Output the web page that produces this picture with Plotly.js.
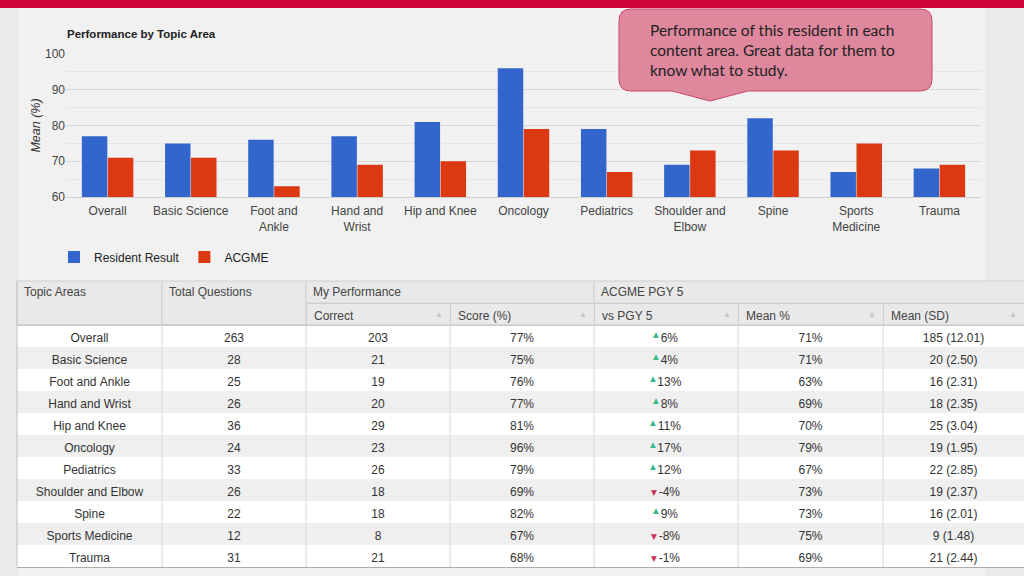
<!DOCTYPE html>
<html><head><meta charset="utf-8">
<script src="https://cdn.plot.ly/plotly-3.0.1.min.js"></script>
<style>html,body{margin:0;padding:0;background:#eaeaea;}#chart{width:1024px;height:576px;}</style>
</head><body><div id="chart"></div>
<script>
// ---- data ----
const topics = ['Overall','Basic Science','Foot and Ankle','Hand and Wrist','Hip and Knee','Oncology','Pediatrics','Shoulder and Elbow','Spine','Sports Medicine','Trauma'];
const tickLabels = ['Overall','Basic Science','Foot and<br>Ankle','Hand and<br>Wrist','Hip and Knee','Oncology','Pediatrics','Shoulder and<br>Elbow','Spine','Sports<br>Medicine','Trauma'];
const residentScore = [77,75,76,77,81,96,79,69,82,67,68];
const acgmeMean = [71,71,63,69,70,79,67,73,73,75,69];
const totalQuestions = [263,28,25,26,36,24,33,26,22,12,31];
const correct = [203,21,19,20,29,23,26,18,18,8,21];
const vsPgy5 = [6,4,13,8,11,17,12,-4,9,-8,-1];
const meanCount = [185,20,16,18,25,19,22,19,16,9,21];
const meanSD = [12.01,2.50,2.31,2.35,3.04,1.95,2.85,2.37,2.01,1.48,2.44];
const subHeaders = ['','','Correct','Score (%)','vs PGY 5','Mean %','Mean (SD)'];
const groupHeaders = ['Topic Areas','Total Questions','My Performance','ACGME PGY 5'];
const seriesNames = ['Resident Result','ACGME'];
const calloutText = 'Performance of this resident in each<br>content area. Great data for them to<br>know what to study.';

// ---- helpers (layout only) ----
const W = 1024, H = 576;
const px = x => x / W, py = y => 1 - y / H;
const FONT = 'Liberation Sans, Arial, sans-serif';
const colEdges = [17,162,306,450,594,738,883,1024];
const colWidths = colEdges.slice(1).map((e,i)=>e-colEdges[i]);
const ROW0 = 325, ROWH = 22;
// non-breaking spaces keep Plotly's table from re-wrapping (and re-sizing) the rows
const NB = '\u00A0';
const nb = s => String(s).replace(/ /g, NB);
const rowFill = topics.map((t,i)=> i%2 ? '#efefef' : '#ffffff');

const barResident = {
  type:'bar', name:seriesNames[0], x:topics, y:residentScore,
  marker:{color:'#3366cc'}, hoverinfo:'skip'
};
const barAcgme = {
  type:'bar', name:seriesNames[1], x:topics, y:acgmeMean,
  marker:{color:'#dc3912'}, hoverinfo:'skip'
};
const table = {
  type:'table',
  domain:{x:[px(17),1], y:[py(568),py(303)]},
  columnwidth: colWidths,
  header:{
    values: subHeaders, align:'left', height:ROWH,
    fill:{color:'#e9e9e9'}, line:{color:'#cfcfcf', width:1},
    font:{family:FONT, size:12, color:'#444'}
  },
  cells:{
    values:[
      topics.map(nb),
      totalQuestions,
      correct,
      residentScore.map(v=>v+'%'),
      vsPgy5.map(v=>NB+NB+v+'%'),
      acgmeMean.map(v=>v+'%'),
      meanCount.map((m,i)=>nb(m+' ('+meanSD[i].toFixed(2)+')'))
    ],
    align:'center', height:ROWH,
    fill:{color: colWidths.map(()=>rowFill)},
    line:{color:'rgba(0,0,0,0)', width:0},
    font:{family:FONT, size:12, color:'#333'}
  }
};

// ---- decorations ----
function rect(x0,y0,x1,y1,fill,line,layer){
  return {type:'rect', xref:'paper', yref:'paper', x0:px(x0), x1:px(x1), y0:py(y1), y1:py(y0),
    fillcolor:fill, line:{color:line||'rgba(0,0,0,0)', width:line?1:0}, layer:layer||'above'};
}
function hline(x0,x1,y,color){
  return {type:'line', xref:'paper', yref:'paper', x0:px(x0), x1:px(x1), y0:py(y), y1:py(y), line:{color:color,width:1}, layer:'above'};
}
function vline(x,y0,y1,color){
  return {type:'line', xref:'paper', yref:'paper', x0:px(x), x1:px(x), y0:py(y0), y1:py(y1), line:{color:color,width:1}, layer:'above'};
}
function calloutPath(){
  const L=619,R=932,T=9,B=91,r=12;
  const P=(x,y)=>px(x).toFixed(5)+','+py(y).toFixed(5);
  return 'M'+P(L+r,T)+' L'+P(R-r,T)+' Q'+P(R,T)+' '+P(R,T+r)+' L'+P(R,B-r)+' Q'+P(R,B)+' '+P(R-r,B)+
    ' L'+P(748,B)+' L'+P(710,101)+' L'+P(672,B)+' L'+P(L+r,B)+' Q'+P(L,B)+' '+P(L,B-r)+' L'+P(L,T+r)+' Q'+P(L,T)+' '+P(L+r,T)+' Z';
}

const shapes = [
  rect(19,8,986,576,'#f1f1f1',null,'below'),
  rect(0,0,1024,8,'#d1033b',null,'above'),
  rect(17,281,162,325,'#e9e9e9','#cfcfcf'),
  rect(162,281,306,325,'#e9e9e9','#cfcfcf'),
  rect(306,281,594,303,'#e9e9e9','#cfcfcf'),
  rect(594,281,1030,303,'#e9e9e9','#cfcfcf'),
  hline(17,1024,325,'#c6c6c6'),
  vline(17,281,567,'#c2c2c2'),
  hline(17,1024,567.5,'#adadad'),
  {type:'path', xref:'paper', yref:'paper', path:calloutPath(), fillcolor:'#df879c', line:{color:'#c9496d', width:1}, layer:'above'}
];
colEdges.slice(1,7).forEach(x=>shapes.push(vline(x,325,567,'#d6d6d6')));

const annotations = [];
const groupX = [17,162,306,594];
groupHeaders.forEach((t,i)=>annotations.push({
  xref:'paper', yref:'paper', x:px(groupX[i]+5), y:py(292), xanchor:'left', yanchor:'middle',
  text:t, showarrow:false, font:{family:FONT, size:12, color:'#444'}
}));
for(let c=2;c<7;c++){
  annotations.push({xref:'paper', yref:'paper', x:px(colEdges[c+1]-11), y:py(314), xanchor:'center', yanchor:'middle',
    text:'▲', showarrow:false, font:{family:FONT, size:8, color:'#c4c4c4'}});
}
// trend arrows of the "vs PGY 5" column, placed on an overlay axis pair (x2: px inside column, y2: row index)
const vsColW = colEdges[5]-colEdges[4];
vsPgy5.forEach((v,i)=>{
  const txtW = 6.67*2 + String(Math.abs(v)).length*6.67 + (v<0?4:0) + 10.67;
  annotations.push({xref:'x2', yref:'y2', x: vsColW/2 - txtW/2 + 5.5, y:i, xanchor:'center', yanchor:'middle',
    yshift: v>=0 ? 2 : -2, text: v>=0 ? '▲' : '▼', showarrow:false,
    font:{family:'DejaVu Sans, sans-serif', size:7.5, color: v>=0 ? '#3db88b' : '#c8305a'}});
});
annotations.push({
  xref:'paper', yref:'paper', x:px(648), y:py(50), xanchor:'left', yanchor:'middle', align:'left',
  text:calloutText, showarrow:false, font:{family:'Lato, Open Sans, sans-serif', size:15.5, color:'#222'}
});

const layout = {
  width:W, height:H, autosize:false,
  margin:{l:0,r:0,t:0,b:0,pad:0},
  paper_bgcolor:'#eaeaea', plot_bgcolor:'rgba(0,0,0,0)',
  font:{family:FONT, color:'#444'},
  title:{text:'<b>Performance by Topic Area</b>', x:px(67), xanchor:'left', xref:'container',
    y:py(34), yanchor:'middle', yref:'container', font:{family:FONT, size:11.5, color:'#222'}},
  barmode:'group', bargap:0.375, bargroupgap:0.02,
  xaxis:{domain:[px(66),px(981)], type:'category', tickvals:topics, ticktext:tickLabels,
    tickfont:{family:FONT, size:12, color:'#444'}, ticks:'', showgrid:false, ticklabelstandoff:3,
    showline:true, linecolor:'#cfcfcf', linewidth:1, fixedrange:true},
  yaxis:{domain:[py(197),py(54)], range:[60,100], dtick:10, tick0:60,
    gridcolor:'#d8d8d8', zeroline:false, showline:false, ticks:'',
    minor:{dtick:5, showgrid:true, gridcolor:'#e6e6e6'},
    tickfont:{family:FONT, size:12, color:'#444'},
    title:{text:'<i>Mean (%)</i>', font:{family:FONT, size:12.5, color:'#333'}, standoff:1},
    fixedrange:true},
  xaxis2:{domain:[px(colEdges[4]),px(colEdges[5])], range:[0,vsColW], anchor:'y2', visible:false, fixedrange:true},
  yaxis2:{domain:[py(ROW0+ROWH*topics.length),py(ROW0)], range:[topics.length-0.5,-0.5], anchor:'x2', visible:false, fixedrange:true},
  showlegend:true,
  legend:{orientation:'h', x:px(54), y:py(257), xanchor:'left', yanchor:'middle',
    font:{family:FONT, size:12, color:'#222'}, bgcolor:'rgba(0,0,0,0)', traceorder:'normal'},
  shapes:shapes,
  annotations:annotations
};

Plotly.newPlot('chart',[barResident, barAcgme, table], layout, {displayModeBar:false, staticPlot:true});
</script>
</body></html>
